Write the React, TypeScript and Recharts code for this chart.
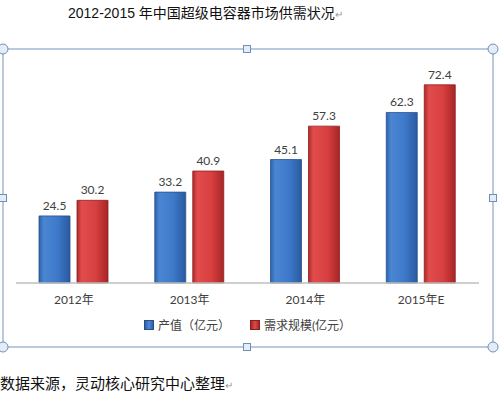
import React from "react";
import { BarChart, Bar, XAxis, YAxis, LabelList, Legend } from "recharts";

const years = ["2012年", "2013年", "2014年", "2015年E"];
const output = [24.5, 33.2, 45.1, 62.3];
const demand = [30.2, 40.9, 57.3, 72.4];

const chartData = years.map((year, i) => ({
  year,
  output: output[i],
  demand: demand[i],
}));

const FONT = "Lato, 'Noto Sans CJK SC', sans-serif";

const LegendContent = () => (
  <div
    style={{
      height: 37,
      display: "flex",
      justifyContent: "center",
      alignItems: "flex-start",
      paddingTop: 6,
      boxSizing: "border-box",
      fontFamily: FONT,
      fontSize: 12,
      color: "#404040",
    }}
  >
    <span style={{ display: "flex", alignItems: "center", marginRight: 20 }}>
      <span
        style={{
          width: 8,
          height: 8,
          marginRight: 4,
          background: "linear-gradient(90deg,#2c5fa8,#4f8ad6,#2c5fa8)",
          border: "1px solid #2a4f86",
        }}
      />
      产值（亿元）
    </span>
    <span style={{ display: "flex", alignItems: "center" }}>
      <span
        style={{
          width: 8,
          height: 8,
          marginRight: 4,
          background: "linear-gradient(90deg,#a82424,#e04a4a,#a82424)",
          border: "1px solid #8a1f1f",
        }}
      />
      需求规模(亿元）
    </span>
  </div>
);

const Handle = ({ x, y, square }: { x: number; y: number; square?: boolean }) =>
  square ? (
    <rect x={x - 3.5} y={y - 3.5} width={7} height={7} fill="#e4edf7" stroke="#6f8fb8" />
  ) : (
    <circle cx={x} cy={y} r={5} fill="#e4edf7" stroke="#6f8fb8" />
  );

export default function App() {
  return (
    <div
      style={{
        position: "absolute",
        left: 0,
        top: 0,
        width: 504,
        height: 396,
        background: "#fff",
        overflow: "hidden",
      }}
    >
      <div
        style={{
          position: "absolute",
          left: 68,
          top: 2,
          whiteSpace: "nowrap",
          fontFamily: "'Liberation Sans', 'Noto Sans CJK SC', sans-serif",
          fontSize: 14,
          color: "#111",
        }}
      >
        2012-2015 年中国超级电容器市场供需状况<span style={{ color: "#999", fontSize: 10 }}>↵</span>
      </div>

      <div style={{ position: "absolute", left: 3, top: 49 }}>
        <BarChart
          width={490}
          height={298}
          data={chartData}
          margin={{ top: 15, right: 14, left: 13, bottom: 0 }}
          barSize={31}
          barGap={7}
        >
          <defs>
            <linearGradient id="blueG" x1="0" y1="0" x2="1" y2="0">
              <stop offset="0%" stopColor="#2d62ad" />
              <stop offset="15%" stopColor="#4b86d3" />
              <stop offset="60%" stopColor="#3d79c9" />
              <stop offset="100%" stopColor="#2a5aa0" />
            </linearGradient>
            <linearGradient id="redG" x1="0" y1="0" x2="1" y2="0">
              <stop offset="0%" stopColor="#b02a2a" />
              <stop offset="15%" stopColor="#e24c4c" />
              <stop offset="60%" stopColor="#d84040" />
              <stop offset="100%" stopColor="#a82525" />
            </linearGradient>
          </defs>
          <XAxis
            dataKey="year"
            height={27}
            tickLine={false}
            tickMargin={6}
            axisLine={{ stroke: "#bfbfbf", strokeWidth: 1.5 }}
            tick={{ fontSize: 12, fill: "#404040", fontFamily: FONT }}
          />
          <YAxis hide domain={[0, 80]} />
          <Legend verticalAlign="bottom" height={37} content={<LegendContent />} />
          <Bar dataKey="output" fill="url(#blueG)" stroke="#2a5088" strokeWidth={0.8} isAnimationActive={false}>
            <LabelList
              dataKey="output"
              position="top"
              offset={6}
              style={{ fontSize: 12, fill: "#404040", fontFamily: FONT }}
            />
          </Bar>
          <Bar dataKey="demand" fill="url(#redG)" stroke="#8a2020" strokeWidth={0.8} isAnimationActive={false}>
            <LabelList
              dataKey="demand"
              position="top"
              offset={6}
              style={{ fontSize: 12, fill: "#404040", fontFamily: FONT }}
            />
          </Bar>
        </BarChart>
      </div>

      <svg
        width={504}
        height={396}
        style={{ position: "absolute", left: 0, top: 0, pointerEvents: "none" }}
      >
        <rect x={3} y={49} width={490} height={298} fill="none" stroke="#8ba6c9" strokeWidth={1.2} />
        <Handle x={3} y={49} />
        <Handle x={493} y={49} />
        <Handle x={3} y={347} />
        <Handle x={493} y={347} />
        <Handle x={247} y={49} square />
        <Handle x={247} y={347} square />
        <Handle x={3} y={198} square />
        <Handle x={493} y={198} square />
      </svg>

      <div
        style={{
          position: "absolute",
          left: 0,
          top: 373,
          fontFamily: "'Noto Sans CJK SC', sans-serif",
          fontSize: 15,
          lineHeight: "20px",
          color: "#111",
          whiteSpace: "nowrap",
        }}
      >
        数据来源，灵动核心研究中心整理<span style={{ color: "#999", fontSize: 10 }}>↵</span>
      </div>
    </div>
  );
}
